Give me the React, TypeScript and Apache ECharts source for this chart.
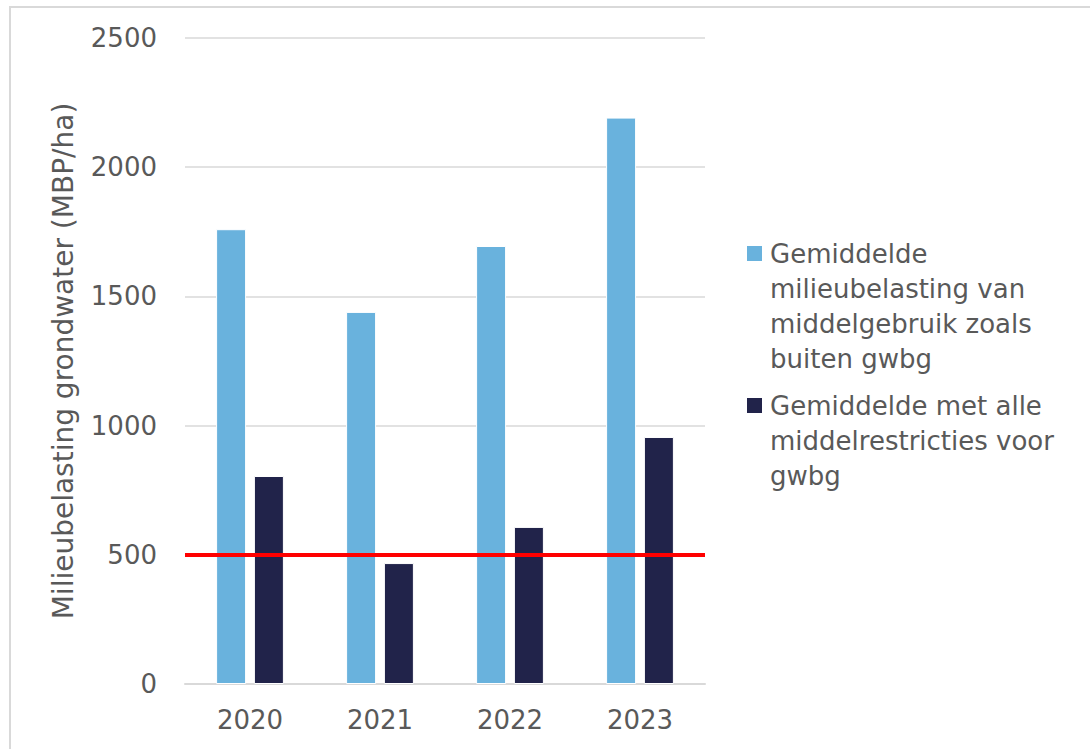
import React, { useEffect, useRef } from "react";
import * as echarts from "echarts";

const categories = ["2020", "2021", "2022", "2023"];
const seriesNames = [
  "Gemiddelde milieubelasting van middelgebruik zoals buiten gwbg",
  "Gemiddelde met alle middelrestricties voor gwbg",
];
const legendLines = [
  ["Gemiddelde", "milieubelasting van", "middelgebruik zoals", "buiten gwbg"],
  ["Gemiddelde met alle", "middelrestricties voor", "gwbg"],
];
const buitenValues = [1760, 1440, 1695, 2192];
const restrictieValues = [805, 468, 608, 956];
const normValue = 500;
const yTicks = [0, 500, 1000, 1500, 2000, 2500];

const FONT = "DejaVu Sans";
const TEXT = "#595959";
const LIGHT = "#69B2DD";
const DARK = "#21234A";

export default function App() {
  const ref = useRef<HTMLDivElement>(null);
  useEffect(() => {
    document.body.style.margin = "0";
    const chart = echarts.init(ref.current!, null, { renderer: "svg" });
    const legendGraphics: any[] = [];
    const legendTops = [246, 398];
    const colors = [LIGHT, DARK];
    legendLines.forEach((lines, i) => {
      legendGraphics.push({
        type: "rect",
        shape: { x: 747, y: legendTops[i], width: 15, height: 15 },
        style: { fill: colors[i] },
      });
      legendGraphics.push({
        type: "text",
        x: 770,
        y: legendTops[i] - 10,
        style: {
          text: lines.join("\n"),
          font: `26px "${FONT}"`,
          fill: TEXT,
          lineHeight: 35,
        },
      });
    });
    chart.setOption({
      animation: false,
      textStyle: { fontFamily: FONT },
      grid: { left: 185, right: 385, top: 38, bottom: 65 },
      xAxis: {
        type: "category",
        data: categories,
        axisTick: { show: false },
        axisLine: { lineStyle: { color: "#d9d9d9", width: 2 } },
        axisLabel: { color: TEXT, fontSize: 26, margin: 23, fontFamily: FONT },
      },
      yAxis: {
        type: "value",
        min: yTicks[0],
        max: yTicks[yTicks.length - 1],
        interval: 500,
        name: "Milieubelasting grondwater (MBP/ha)",
        nameLocation: "middle",
        nameGap: 108,
        nameTextStyle: { color: TEXT, fontSize: 28, fontFamily: FONT },
        axisLabel: {
          color: TEXT,
          fontSize: 26,
          margin: 28,
          fontFamily: FONT,
          formatter: (v: number) => String(v),
        },
        splitLine: { lineStyle: { color: "#d9d9d9", width: 1.5 } },
        axisLine: { show: false },
        axisTick: { show: false },
      },
      series: [
        {
          name: seriesNames[0],
          type: "bar",
          data: buitenValues,
          barWidth: 30,
          barGap: "26%",
          itemStyle: { color: LIGHT, borderColor: "#ffffff", borderWidth: 1 },
          markLine: {
            silent: true,
            symbol: "none",
            label: { show: false },
            lineStyle: { color: "#ff0000", width: 4, type: "solid" },
            data: [{ yAxis: normValue }],
          },
        },
        {
          name: seriesNames[1],
          type: "bar",
          data: restrictieValues,
          barWidth: 30,
          itemStyle: { color: DARK, borderColor: "#ffffff", borderWidth: 1 },
        },
      ],
      graphic: [
        {
          type: "rect",
          shape: { x: 10, y: 7, width: 1200, height: 900 },
          style: { fill: "none", stroke: "#d9d9d9", lineWidth: 2 },
          silent: true,
        },
        ...legendGraphics,
      ],
    });
    return () => chart.dispose();
  }, []);
  return <div ref={ref} style={{ width: 1090, height: 749 }} />;
}
